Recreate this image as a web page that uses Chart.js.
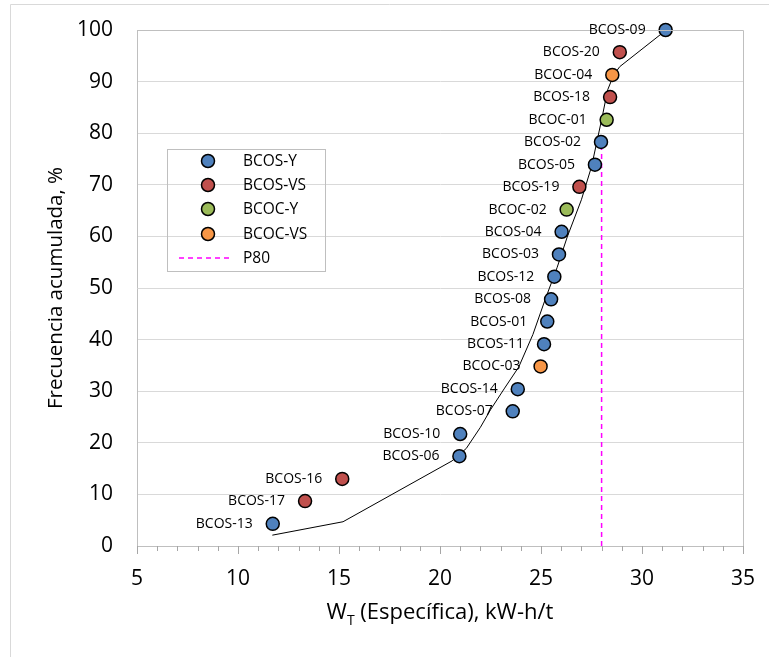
<!DOCTYPE html>
<html>
<head>
<meta charset="utf-8">
<script src="https://cdn.jsdelivr.net/npm/chart.js@4/dist/chart.umd.min.js"></script>
<style>
  html, body { margin: 0; padding: 0; background: #fff; }
  #wrap { width: 769px; height: 657px; }
</style>
</head>
<body>
<div id="wrap"><canvas id="chart" width="769" height="657"></canvas></div>
<script>
// Muestras BCOS (Y)
const bcosYNames = ['BCOS-13', 'BCOS-06', 'BCOS-10', 'BCOS-07', 'BCOS-14', 'BCOS-11', 'BCOS-01', 'BCOS-08', 'BCOS-12', 'BCOS-03', 'BCOS-04', 'BCOS-05', 'BCOS-02', 'BCOS-09'];
const bcosYX = [11.72, 20.96, 21.0, 23.6, 23.85, 25.15, 25.31, 25.5, 25.66, 25.89, 26.02, 27.67, 27.97, 31.17];
const bcosYY = [4.3, 17.4, 21.7, 26.1, 30.4, 39.1, 43.5, 47.8, 52.2, 56.5, 60.9, 73.9, 78.3, 100];

// Muestras BCOS (VS)
const bcosVSNames = ['BCOS-17', 'BCOS-16', 'BCOS-19', 'BCOS-18', 'BCOS-20'];
const bcosVSX = [13.32, 15.16, 26.9, 28.42, 28.9];
const bcosVSY = [8.7, 13.0, 69.6, 87.0, 95.7];

// Muestras BCOC (Y)
const bcocYNames = ['BCOC-02', 'BCOC-01'];
const bcocYX = [26.27, 28.25];
const bcocYY = [65.2, 82.6];

// Muestras BCOC (VS)
const bcocVSNames = ['BCOC-03', 'BCOC-04'];
const bcocVSX = [24.98, 28.53];
const bcocVSY = [34.8, 91.3];

// Curva ajustada
const fitX = [11.7, 15.2, 20.6, 21.3, 22.0, 22.5, 23.2, 23.9, 24.6, 25.2, 25.8, 26.3, 27.0, 27.5, 28.0, 28.3, 28.6, 28.9, 31.2];
const fitY = [2.1, 4.7, 16.5, 18.9, 23.0, 26.4, 30.6, 34.7, 41.0, 47.7, 54.0, 59.9, 67.1, 73.5, 82.6, 88.4, 91.3, 92.9, 100];

// P80
const p80X = [28.0, 28.0];
const p80Y = [0, 80];

const xTicks = [5, 10, 15, 20, 25, 30, 35];
const yTicks = [0, 10, 20, 30, 40, 50, 60, 70, 80, 90, 100];

const FONT = '"Open Sans", "DejaVu Sans", sans-serif';

function pts(xs, ys) {
  return xs.map((x, i) => ({ x: x, y: ys[i] }));
}

function scatterSet(label, xs, ys, names, color) {
  return {
    type: 'scatter',
    label: label,
    data: pts(xs, ys),
    names: names,
    backgroundColor: color,
    borderColor: '#000',
    borderWidth: 1.5,
    pointRadius: 6.5,
    pointHoverRadius: 6.5,
    clip: false,
    order: 1
  };
}

const datasets = [
  scatterSet('BCOS-Y', bcosYX, bcosYY, bcosYNames, '#4f81bd'),
  scatterSet('BCOS-VS', bcosVSX, bcosVSY, bcosVSNames, '#c0504d'),
  scatterSet('BCOC-Y', bcocYX, bcocYY, bcocYNames, '#9bbb59'),
  scatterSet('BCOC-VS', bcocVSX, bcocVSY, bcocVSNames, '#f79646'),
  {
    type: 'line',
    label: 'ajuste',
    data: pts(fitX, fitY),
    borderColor: '#000',
    borderWidth: 1,
    pointRadius: 0,
    tension: 0,
    fill: false,
    order: 10
  },
  {
    type: 'line',
    label: 'P80',
    data: pts(p80X, p80Y),
    borderColor: '#ff00ff',
    borderWidth: 1.5,
    borderDash: [5, 4],
    pointRadius: 0,
    fill: false,
    order: 9
  }
];

// Etiquetas, leyenda, marcas del eje x y títulos
const decor = {
  id: 'decor',
  beforeDraw(chart) {
    const ctx = chart.ctx;
    ctx.save();
    ctx.strokeStyle = '#d9d9d9';
    ctx.lineWidth = 1;
    ctx.beginPath();
    ctx.moveTo(10.5, 657);
    ctx.lineTo(10.5, 4.5);
    ctx.lineTo(769, 4.5);
    ctx.stroke();
    ctx.restore();
  },
  afterDatasetsDraw(chart) {
    const ctx = chart.ctx;
    const area = chart.chartArea;
    const xs = chart.scales.x;
    ctx.save();

    // borde del área de trazado
    ctx.strokeStyle = '#bfbfbf';
    ctx.lineWidth = 1;
    ctx.beginPath();
    ctx.moveTo(area.left, area.top + 0.5);
    ctx.lineTo(area.right + 0.5, area.top + 0.5);
    ctx.lineTo(area.right + 0.5, area.bottom);
    ctx.stroke();

    // marcas del eje x
    ctx.strokeStyle = '#a6a6a6';
    ctx.beginPath();
    for (let v = 5; v <= 35; v++) {
      const px = Math.round(xs.getPixelForValue(v)) + 0.5;
      ctx.moveTo(px, area.bottom);
      ctx.lineTo(px, area.bottom + (v % 5 === 0 ? 8 : 5));
    }
    ctx.stroke();

    // nombres de las muestras
    ctx.fillStyle = '#000';
    ctx.font = '14px ' + FONT;
    ctx.textAlign = 'right';
    ctx.textBaseline = 'middle';
    chart.data.datasets.forEach((ds, i) => {
      if (!ds.names) return;
      const meta = chart.getDatasetMeta(i);
      meta.data.forEach((el, j) => {
        ctx.fillText(ds.names[j], el.x - 20, el.y);
      });
    });

    // leyenda
    ctx.strokeStyle = '#bfbfbf';
    ctx.lineWidth = 1;
    ctx.strokeRect(167.5, 149.5, 158, 122);
    ctx.font = '15.5px ' + FONT;
    ctx.textAlign = 'left';
    const rows = [161, 185, 209, 234, 258];
    for (let i = 0; i < 4; i++) {
      const ds = chart.data.datasets[i];
      ctx.beginPath();
      ctx.arc(208, rows[i], 6.5, 0, Math.PI * 2);
      ctx.fillStyle = ds.backgroundColor;
      ctx.fill();
      ctx.lineWidth = 1.5;
      ctx.strokeStyle = '#000';
      ctx.stroke();
      ctx.fillStyle = '#000';
      ctx.fillText(ds.label, 243, rows[i] + 1);
    }
    ctx.strokeStyle = '#ff00ff';
    ctx.lineWidth = 1.5;
    ctx.setLineDash([5, 4]);
    ctx.beginPath();
    ctx.moveTo(179, rows[4]);
    ctx.lineTo(232, rows[4]);
    ctx.stroke();
    ctx.setLineDash([]);
    ctx.fillText('P80', 243, rows[4] + 1);

    // título del eje x con subíndice
    const a = 'W';
    const rest = ' (Específica), kW-h/t';
    ctx.font = '22px ' + FONT;
    const wA = ctx.measureText(a).width;
    const wRest = ctx.measureText(rest).width;
    ctx.font = '14px ' + FONT;
    const wSub = ctx.measureText('T').width;
    const total = wA + wSub + wRest;
    const x0 = 440 - total / 2;
    const yT = 613;
    ctx.textBaseline = 'middle';
    ctx.font = '22px ' + FONT;
    ctx.fillText(a, x0, yT);
    ctx.font = '14px ' + FONT;
    ctx.fillText('T', x0 + wA, yT + 8);
    ctx.font = '22px ' + FONT;
    ctx.fillText(rest, x0 + wA + wSub, yT);

    // título del eje y
    ctx.font = '20.5px ' + FONT;
    ctx.translate(56, 288);
    ctx.rotate(-Math.PI / 2);
    ctx.textAlign = 'center';
    ctx.fillText('Frecuencia acumulada, %', 0, 0);
    ctx.restore();
  }
};

new Chart(document.getElementById('chart'), {
  data: { datasets: datasets },
  plugins: [decor],
  options: {
    responsive: false,
    animation: false,
    layout: { autoPadding: false, padding: { left: 0, top: 30, right: 26, bottom: 0 } },
    plugins: {
      legend: { display: false },
      tooltip: { enabled: false }
    },
    scales: {
      x: {
        type: 'linear',
        min: 5,
        max: 35,
        afterBuildTicks: (s) => { s.ticks = xTicks.map(v => ({ value: v })); },
        afterFit: (s) => {
          s.height = 111;
          s.paddingLeft = 0;
          s.paddingRight = 0;
        },
        grid: { display: false, drawTicks: false },
        border: { display: true, color: '#bfbfbf' },
        ticks: {
          padding: 20,
          color: '#000',
          font: { family: FONT, size: 21 }
        }
      },
      y: {
        type: 'linear',
        min: 0,
        max: 100,
        afterBuildTicks: (s) => { s.ticks = yTicks.map(v => ({ value: v })); },
        afterFit: (s) => {
          s.width = 137;
          s.paddingTop = 0;
          s.paddingBottom = 0;
        },
        grid: { color: '#d9d9d9', drawTicks: false },
        border: { display: true, color: '#bfbfbf' },
        ticks: {
          padding: 24,
          color: '#000',
          font: { family: FONT, size: 21 }
        }
      }
    }
  }
});
</script>
</body>
</html>
